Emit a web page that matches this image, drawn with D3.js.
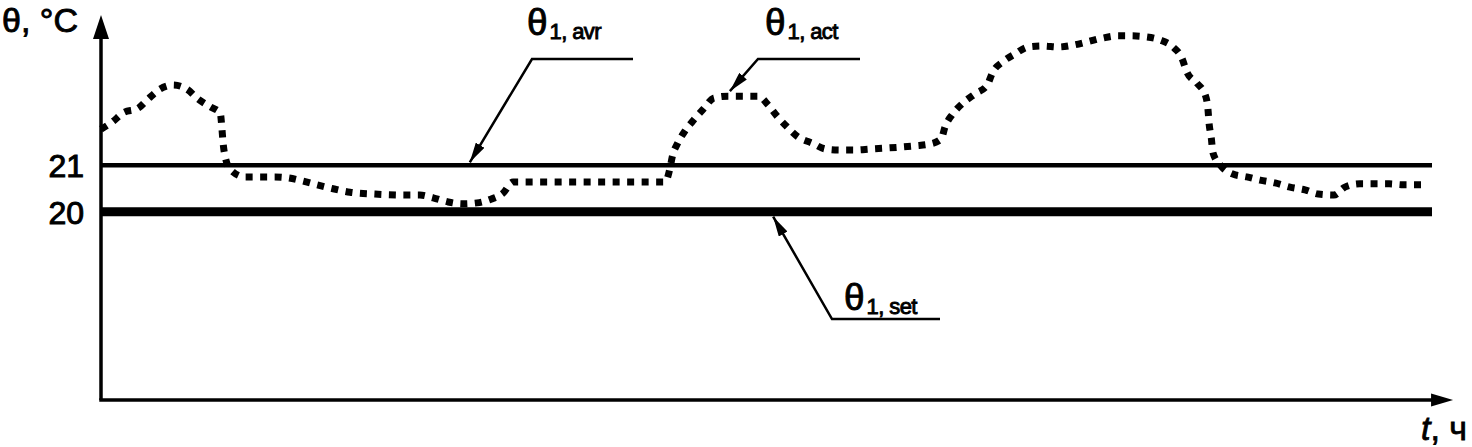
<!DOCTYPE html>
<html>
<head>
<meta charset="utf-8">
<script src="https://cdn.jsdelivr.net/npm/d3@7/dist/d3.min.js"></script>
<style>
  body { margin: 0; background: #fff; }
  svg { display: block; }
  text { font-family: "Liberation Sans", Arial, sans-serif; fill: #000; }
</style>
</head>
<body>
<svg id="chart" width="1472" height="447"></svg>
<script>
// time, h
const hours = [0, 0.20, 0.40, 0.67, 0.85, 1.06, 1.30, 1.55, 1.75, 1.97, 2.15, 2.18, 2.20, 2.24, 2.34, 2.60,
  2.87, 3.14, 3.37, 3.64, 3.89, 4.13, 4.49, 4.94, 5.48, 5.75, 5.99, 6.26, 6.51, 6.78, 7.03, 7.25, 7.43,
  7.92, 9.00, 9.90, 10.17, 10.26, 10.30, 10.40, 10.53, 10.69, 10.86, 11.05, 11.31, 11.58, 11.85, 12.03,
  12.19, 12.37, 12.57, 12.82, 13.07, 13.33, 13.60, 13.87, 14.14, 14.39, 14.68, 14.95, 15.15, 15.22,
  15.36, 15.54, 15.76, 15.98, 16.08, 16.26, 16.48, 16.72, 16.99, 17.26, 17.53, 17.78, 18.05, 18.32,
  18.56, 18.83, 19.10, 19.33, 19.49, 19.58, 19.76, 19.91, 19.96, 19.98, 20.02, 20.05, 20.20, 20.41,
  20.66, 20.90, 21.17, 21.44, 21.71, 21.95, 22.23, 22.43, 22.70, 22.97, 23.23, 23.48, 23.82];
// actual indoor temperature, °C
const tempAct = [21.78, 21.93, 22.13, 22.23, 22.43, 22.64, 22.73, 22.64, 22.43, 22.26, 22.13, 21.80, 21.50,
  21.18, 20.90, 20.75, 20.75, 20.75, 20.73, 20.66, 20.58, 20.51, 20.42, 20.38, 20.36, 20.36, 20.30,
  20.21, 20.17, 20.19, 20.27, 20.40, 20.64, 20.64, 20.64, 20.64, 20.64, 20.94, 21.18, 21.48, 21.74,
  21.98, 22.21, 22.45, 22.49, 22.49, 22.49, 22.30, 22.06, 21.83, 21.61, 21.48, 21.35, 21.33, 21.33,
  21.35, 21.37, 21.39, 21.42, 21.46, 21.57, 21.83, 22.11, 22.34, 22.54, 22.73, 23.01, 23.23, 23.40,
  23.55, 23.57, 23.55, 23.59, 23.66, 23.74, 23.79, 23.79, 23.77, 23.70, 23.55, 23.31, 23.01, 22.77,
  22.52, 22.21, 21.91, 21.59, 21.27, 20.98, 20.81, 20.75, 20.68, 20.62, 20.53, 20.47, 20.38, 20.36,
  20.53, 20.60, 20.60, 20.60, 20.58, 20.58];
const tempSet = 20;
const tempAvr = 21;
const yTicks = [20, 21];
const tRange = [0, 24];
const yAxisRange = [15.94, 24.24];
const tAxisEnd = 24.38;

const svg = d3.select('#chart');

const x = d3.scaleLinear().domain(tRange).range([101, 1432]);
const y = d3.scaleLinear().domain([20, 21]).range([211.7, 165.3]);

// arrow marker for leaders (tip at path start)
svg.append('defs').append('marker')
  .attr('id', 'arr')
  .attr('viewBox', '0 0 20 10')
  .attr('refX', 0).attr('refY', 5)
  .attr('markerWidth', 20).attr('markerHeight', 10)
  .attr('markerUnits', 'userSpaceOnUse')
  .attr('orient', 'auto')
  .append('path').attr('d', 'M0,5 L20,0 L20,10 Z').attr('fill', '#000');

// axes lines
svg.append('line')
  .attr('x1', x(0)).attr('x2', x(0))
  .attr('y1', y(yAxisRange[0])).attr('y2', y(yAxisRange[1]) + 20)
  .attr('stroke', '#000').attr('stroke-width', 3.5);
svg.append('line')
  .attr('x1', x(0) - 1.75).attr('x2', x(tAxisEnd) - 16)
  .attr('y1', y(yAxisRange[0])).attr('y2', y(yAxisRange[0]))
  .attr('stroke', '#000').attr('stroke-width', 3.5);

// axis arrowheads
const yTop = y(yAxisRange[1]);
svg.append('path')
  .attr('d', `M${x(0)},${yTop} L${x(0) - 8},${yTop + 24} L${x(0) + 8},${yTop + 24} Z`)
  .attr('fill', '#000');
const xEnd = x(tAxisEnd), yBase = y(yAxisRange[0]);
svg.append('path')
  .attr('d', `M${xEnd},${yBase} L${xEnd - 22},${yBase - 6.5} L${xEnd - 22},${yBase + 6.5} Z`)
  .attr('fill', '#000');

// y tick labels
const yAxis = svg.append('g')
  .attr('transform', `translate(${x(0)},0)`)
  .call(d3.axisLeft(y).tickValues(yTicks).tickSize(0).tickPadding(17).tickFormat(d3.format('d')));
yAxis.select('.domain').remove();
yAxis.selectAll('text')
  .style('font-family', '"Liberation Sans", Arial, sans-serif')
  .style('font-size', '32px')
  .attr('stroke', '#000').attr('stroke-width', 1)
  .attr('dy', '0.36em');

// reference lines
svg.append('line')
  .attr('x1', x(0)).attr('x2', x(tRange[1]))
  .attr('y1', y(tempAvr)).attr('y2', y(tempAvr))
  .attr('stroke', '#000').attr('stroke-width', 4.5);
svg.append('line')
  .attr('x1', x(0)).attr('x2', x(tRange[1]))
  .attr('y1', y(tempSet)).attr('y2', y(tempSet))
  .attr('stroke', '#000').attr('stroke-width', 9);

// actual temperature curve
const line = d3.line()
  .x((d, i) => x(hours[i]))
  .y(d => y(d))
  .curve(d3.curveMonotoneX);
svg.append('path')
  .datum(tempAct)
  .attr('d', line)
  .attr('fill', 'none')
  .attr('stroke', '#000')
  .attr('stroke-width', 7)
  .attr('stroke-dasharray', '7,7.5');

// leaders + labels
function leader(pts) {
  svg.append('path')
    .attr('d', d3.line()(pts))
    .attr('fill', 'none')
    .attr('stroke', '#000')
    .attr('stroke-width', 2.5)
    .attr('marker-start', 'url(#arr)');
}
function label(px, py, sub) {
  const t = svg.append('text').attr('x', px).attr('y', py)
    .attr('stroke', '#000').attr('stroke-width', 0.9);
  t.append('tspan').style('font-size', '37px').text('θ');
  t.append('tspan').attr('dy', 4).attr('dx', 2)
    .style('font-size', '22px').style('letter-spacing', '-0.6px').text(sub);
}

const avrTip = [x(6.65), y(tempAvr) - 3];
leader([avrTip, [532, 59], [633, 59]]);
label(527, 35, '1, avr');

const actTip = [x(11.34), y(22.49) - 5];
leader([actTip, [758, 59], [860, 59]]);
label(765, 35, '1, act');

const setTip = [x(12.12), y(tempSet) + 5];
leader([setTip, [832, 319], [940, 319]]);
label(844, 310, '1, set');

// axis titles
svg.append('text').attr('x', 2).attr('y', 32)
  .style('font-size', '34px')
  .attr('stroke', '#000').attr('stroke-width', 0.9)
  .text('θ, °C');
const tl = svg.append('text').attr('x', 1421).attr('y', 440)
  .style('font-size', '34px')
  .attr('stroke', '#000').attr('stroke-width', 0.8);
tl.append('tspan').style('font-style', 'italic').text('t');
tl.append('tspan').text(', ч');
</script>
</body>
</html>
